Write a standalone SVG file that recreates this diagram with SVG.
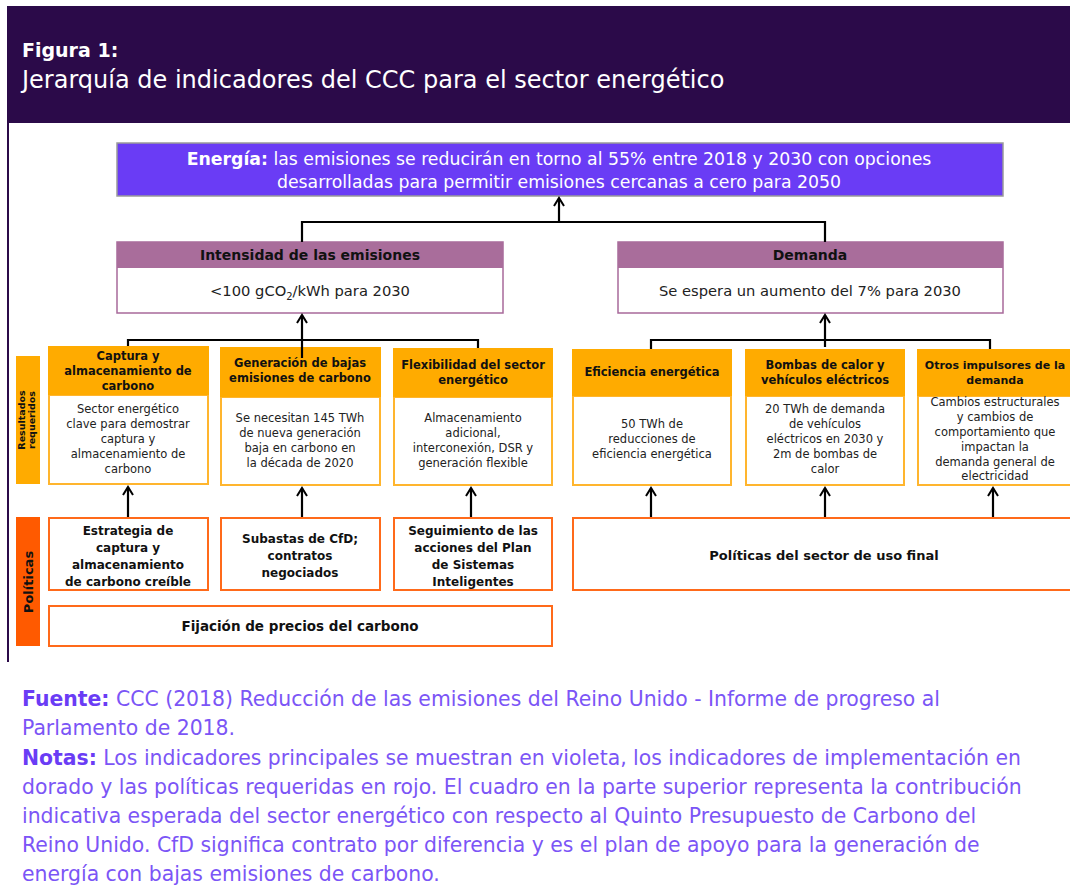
<svg xmlns="http://www.w3.org/2000/svg" width="1070" height="890" viewBox="0 0 1070 890">
<style>
text{font-family:"DejaVu Sans","Liberation Sans",sans-serif;}
.w{fill:#ffffff}
.b{font-weight:bold}
.hd{font-size:11.5px;font-weight:bold;fill:#111;text-anchor:middle}
.hs{font-size:11px}
.bd{font-size:11.5px;fill:#222;text-anchor:middle}
.pl{font-size:12px;font-weight:bold;fill:#111;text-anchor:middle}
.pb{font-size:13px}
.pf{font-size:13.5px}
.gold{fill:#FFAB00}
.body{fill:#fff;stroke:#FFB52E;stroke-width:2}
.pol{fill:#fff;stroke:#FF6A1A;stroke-width:2}
.con{stroke:#000;stroke-width:2.2;fill:none}
.ft{font-size:20.4px;fill:#7B55F6}
.ftb{font-weight:bold;fill:#6A3CF5}
</style>
<defs>
<marker id="arr" viewBox="0 0 12 12" refX="10" refY="6" markerWidth="12" markerHeight="12" markerUnits="userSpaceOnUse" orient="auto">
<path d="M2,1 L10,6 L2,11" fill="none" stroke="#000" stroke-width="2"/>
</marker>
</defs>
<rect x="0" y="0" width="1070" height="890" fill="#fff"/>
<g id="header">
<rect x="7" y="6" width="1063" height="117" fill="#2B0A49"/>
<line x1="8" y1="120" x2="8" y2="662" stroke="#2B0A49" stroke-width="2"/>
<text x="22" y="57" class="w b" font-size="19">Figura 1:</text>
<text x="22" y="88" class="w" font-size="24">Jerarquía de indicadores del CCC para el sector energético</text>
</g>
<g id="energia">
<rect x="117" y="143" width="886" height="53" fill="#6A3CF5" stroke="#9a9a9a" stroke-width="1.5"/>
<text x="559" y="165" class="w" font-size="17.3" text-anchor="middle"><tspan font-weight="bold">Energía:</tspan> las emisiones se reducirán en torno al 55% entre 2018 y 2030 con opciones</text>
<text x="559" y="188" class="w" font-size="17.3" text-anchor="middle">desarrolladas para permitir emisiones cercanas a cero para 2050</text>
</g>
<g id="intensidad">
<rect x="117" y="242" width="386" height="71" fill="#fff" stroke="#A8699A" stroke-width="1.5"/>
<rect x="117" y="242" width="386" height="26" fill="#A96D9B"/>
<text x="310" y="260" font-size="14" font-weight="bold" fill="#111" text-anchor="middle">Intensidad de las emisiones</text>
<text x="310" y="296" font-size="14.7" fill="#222" text-anchor="middle">&lt;100 gCO<tspan font-size="10" dy="4">2</tspan><tspan dy="-4">/kWh para 2030</tspan></text>
</g>
<g id="demanda">
<rect x="618" y="242" width="385" height="71" fill="#fff" stroke="#A8699A" stroke-width="1.5"/>
<rect x="618" y="242" width="385" height="26" fill="#A96D9B"/>
<text x="810" y="260" font-size="14" font-weight="bold" fill="#111" text-anchor="middle">Demanda</text>
<text x="810" y="296" font-size="14.7" fill="#222" text-anchor="middle">Se espera un aumento del 7% para 2030</text>
</g>
<g id="label-resultados">
<rect x="16" y="356" width="24" height="128" class="gold"/>
<text transform="translate(25,420) rotate(-90)" font-size="9.5" font-weight="bold" fill="#111" text-anchor="middle">Resultados</text>
<text transform="translate(35,420) rotate(-90)" font-size="9.5" font-weight="bold" fill="#111" text-anchor="middle">requeridos</text>
</g>
<g id="label-politicas">
<rect x="16" y="517" width="24" height="129" fill="#FF5A00"/>
<text transform="translate(33,582) rotate(-90)" font-size="13" font-weight="bold" fill="#111" text-anchor="middle">Políticas</text>
</g>
<g id="captura">
<rect x="49" y="395" width="159" height="89" class="body"/>
<rect x="48" y="346" width="161" height="49" class="gold"/>
<text class="hd" x="128" y="360">Captura y</text>
<text class="hd" x="128" y="375">almacenamiento de</text>
<text class="hd" x="128" y="390">carbono</text>
<text class="bd" x="128" y="413">Sector energético</text>
<text class="bd" x="128" y="428">clave para demostrar</text>
<text class="bd" x="128" y="443">captura y</text>
<text class="bd" x="128" y="458">almacenamiento de</text>
<text class="bd" x="128" y="473">carbono</text>
</g>
<g id="generacion">
<rect x="221" y="397" width="159" height="88" class="body"/>
<rect x="220" y="347" width="161" height="50" class="gold"/>
<text class="hd" x="300" y="367">Generación de bajas</text>
<text class="hd" x="300" y="382">emisiones de carbono</text>
<text class="bd" x="300" y="422">Se necesitan 145 TWh</text>
<text class="bd" x="300" y="437">de nueva generación</text>
<text class="bd" x="300" y="452">baja en carbono en</text>
<text class="bd" x="300" y="467">la década de 2020</text>
</g>
<g id="flexibilidad">
<rect x="394" y="397" width="158" height="88" class="body"/>
<rect x="393" y="348" width="160" height="49" class="gold"/>
<text class="hd" x="473" y="369">Flexibilidad del sector</text>
<text class="hd" x="473" y="384">energético</text>
<text class="bd" x="473" y="422">Almacenamiento</text>
<text class="bd" x="473" y="437">adicional,</text>
<text class="bd" x="473" y="452">interconexión, DSR y</text>
<text class="bd" x="473" y="467">generación flexible</text>
</g>
<g id="eficiencia">
<rect x="573" y="396" width="158" height="89" class="body"/>
<rect x="572" y="349" width="160" height="47" class="gold"/>
<text class="hd" x="652" y="376">Eficiencia energética</text>
<text class="bd" x="652" y="428">50 TWh de</text>
<text class="bd" x="652" y="443">reducciones de</text>
<text class="bd" x="652" y="458">eficiencia energética</text>
</g>
<g id="bombas">
<rect x="746" y="396" width="158" height="89" class="body"/>
<rect x="745" y="349" width="160" height="47" class="gold"/>
<text class="hd" x="825" y="369">Bombas de calor y</text>
<text class="hd" x="825" y="384">vehículos eléctricos</text>
<text class="bd" x="825" y="413">20 TWh de demanda</text>
<text class="bd" x="825" y="428">de vehículos</text>
<text class="bd" x="825" y="443">eléctricos en 2030 y</text>
<text class="bd" x="825" y="458">2m de bombas de</text>
<text class="bd" x="825" y="473">calor</text>
</g>
<g id="otros">
<rect x="918" y="396" width="160" height="89" class="body"/>
<rect x="917" y="349" width="160" height="47" class="gold"/>
<text class="hd hs" x="995" y="369">Otros impulsores de la</text>
<text class="hd hs" x="995" y="384">demanda</text>
<text class="bd" x="995" y="406">Cambios estructurales</text>
<text class="bd" x="995" y="421">y cambios de</text>
<text class="bd" x="995" y="436">comportamiento que</text>
<text class="bd" x="995" y="451">impactan la</text>
<text class="bd" x="995" y="466">demanda general de</text>
<text class="bd" x="995" y="480">electricidad</text>
</g>
<g id="estrategia">
<rect x="49" y="518" width="159" height="72" class="pol"/>
<text class="pl" x="128" y="535">Estrategia de</text>
<text class="pl" x="128" y="552">captura y</text>
<text class="pl" x="128" y="569">almacenamiento</text>
<text class="pl" x="128" y="586">de carbono creíble</text>
</g>
<g id="subastas">
<rect x="221" y="518" width="159" height="72" class="pol"/>
<text class="pl" x="300" y="543">Subastas de CfD;</text>
<text class="pl" x="300" y="560">contratos</text>
<text class="pl" x="300" y="577">negociados</text>
</g>
<g id="seguimiento">
<rect x="394" y="518" width="158" height="72" class="pol"/>
<text class="pl" x="473" y="535">Seguimiento de las</text>
<text class="pl" x="473" y="552">acciones del Plan</text>
<text class="pl" x="473" y="569">de Sistemas</text>
<text class="pl" x="473" y="586">Inteligentes</text>
</g>
<g id="uso-final">
<rect x="573" y="518" width="505" height="72" class="pol"/>
<text class="pl pb" x="824" y="560">Políticas del sector de uso final</text>
</g>
<g id="fijacion">
<rect x="49" y="606" width="503" height="40" class="pol"/>
<text class="pl pf" x="300" y="631">Fijación de precios del carbono</text>
</g>
<g id="connectors">
<path class="con" d="M302,242 V222 H825 V242"/>
<line class="con" x1="559" y1="222" x2="559" y2="198" marker-end="url(#arr)"/>
<path class="con" d="M128,346 V340 H478 V348"/>
<line class="con" x1="302" y1="358" x2="302" y2="315" marker-end="url(#arr)"/>
<path class="con" d="M651,349 V340 H990 V349"/>
<line class="con" x1="825" y1="347" x2="825" y2="315" marker-end="url(#arr)"/>
<line class="con" x1="128" y1="517" x2="128" y2="487" marker-end="url(#arr)"/>
<line class="con" x1="302" y1="517" x2="302" y2="488" marker-end="url(#arr)"/>
<line class="con" x1="471" y1="517" x2="471" y2="488" marker-end="url(#arr)"/>
<line class="con" x1="651" y1="517" x2="651" y2="488" marker-end="url(#arr)"/>
<line class="con" x1="825" y1="517" x2="825" y2="488" marker-end="url(#arr)"/>
<line class="con" x1="993" y1="517" x2="993" y2="488" marker-end="url(#arr)"/>
</g>
<g id="footer">
<text class="ft" x="22" y="706"><tspan class="ftb">Fuente:</tspan> CCC (2018) Reducción de las emisiones del Reino Unido - Informe de progreso al</text>
<text class="ft" x="22" y="735">Parlamento de 2018.</text>
<text class="ft" x="22" y="765"><tspan class="ftb">Notas:</tspan> Los indicadores principales se muestran en violeta, los indicadores de implementación en</text>
<text class="ft" x="22" y="794">dorado y las políticas requeridas en rojo. El cuadro en la parte superior representa la contribución</text>
<text class="ft" x="22" y="823">indicativa esperada del sector energético con respecto al Quinto Presupuesto de Carbono del</text>
<text class="ft" x="22" y="852">Reino Unido. CfD significa contrato por diferencia y es el plan de apoyo para la generación de</text>
<text class="ft" x="22" y="881">energía con bajas emisiones de carbono.</text>
</g>
</svg>
